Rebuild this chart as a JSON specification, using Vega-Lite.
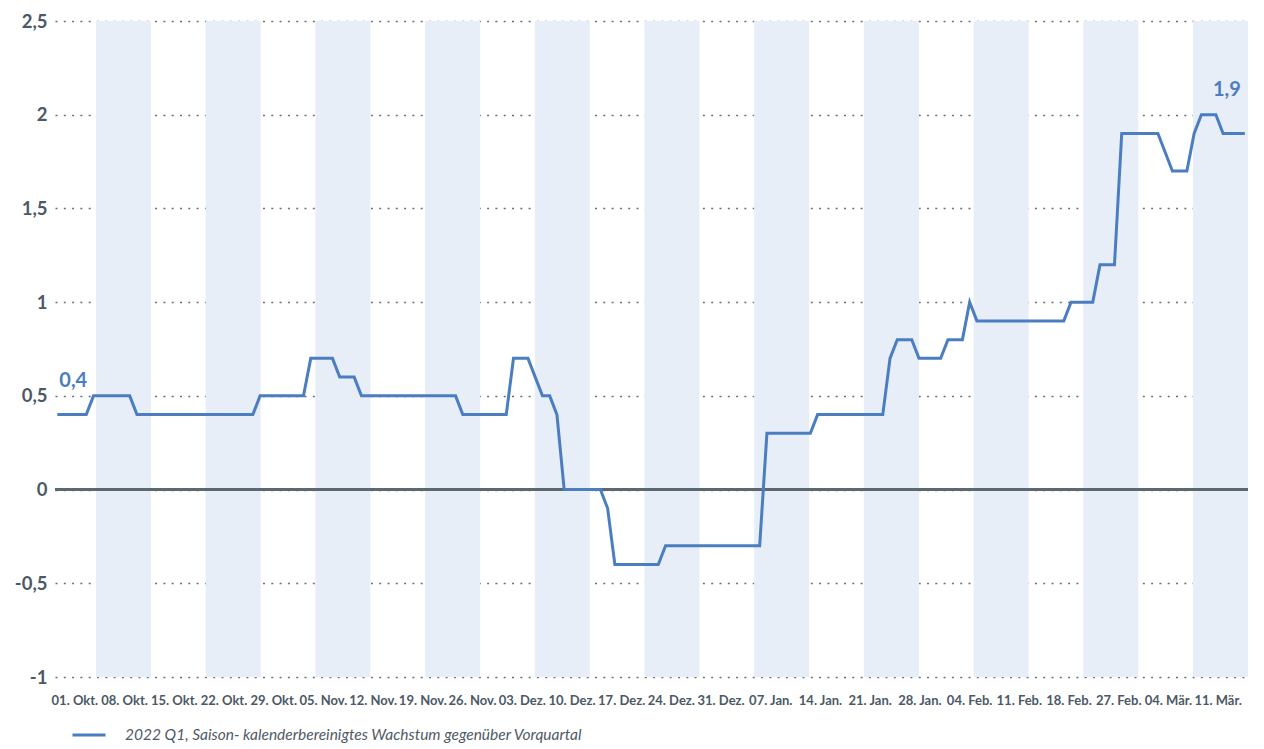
{
  "$schema": "https://vega.github.io/schema/vega-lite/v6.json",
  "autosize": {"type": "none"},
  "width": 1193,
  "height": 656,
  "padding": {"left": 55, "top": 21, "right": 16, "bottom": 72},
  "background": "white",
  "config": {
    "view": {"stroke": null},
    "font": "Lato",
    "axis": {"labelFont": "Lato"},
    "legend": {"labelFont": "Lato"}
  },
  "datasets": {
    "reihe": [
      {"t":0,"v":0.4},{"t":1,"v":0.4},{"t":2,"v":0.4},{"t":3,"v":0.4},{"t":4,"v":0.4},
      {"t":5,"v":0.5},{"t":6,"v":0.5},{"t":7,"v":0.5},{"t":8,"v":0.5},{"t":9,"v":0.5},{"t":10,"v":0.5},
      {"t":11,"v":0.4},{"t":12,"v":0.4},{"t":13,"v":0.4},{"t":14,"v":0.4},{"t":15,"v":0.4},{"t":16,"v":0.4},{"t":17,"v":0.4},{"t":18,"v":0.4},{"t":19,"v":0.4},{"t":20,"v":0.4},{"t":21,"v":0.4},{"t":22,"v":0.4},{"t":23,"v":0.4},{"t":24,"v":0.4},{"t":25,"v":0.4},{"t":26,"v":0.4},{"t":27,"v":0.4},
      {"t":28,"v":0.5},{"t":29,"v":0.5},{"t":30,"v":0.5},{"t":31,"v":0.5},{"t":32,"v":0.5},{"t":33,"v":0.5},{"t":34,"v":0.5},
      {"t":35,"v":0.7},{"t":36,"v":0.7},{"t":37,"v":0.7},{"t":38,"v":0.7},
      {"t":39,"v":0.6},{"t":40,"v":0.6},{"t":41,"v":0.6},
      {"t":42,"v":0.5},{"t":43,"v":0.5},{"t":44,"v":0.5},{"t":45,"v":0.5},{"t":46,"v":0.5},{"t":47,"v":0.5},{"t":48,"v":0.5},{"t":49,"v":0.5},{"t":50,"v":0.5},{"t":51,"v":0.5},{"t":52,"v":0.5},{"t":53,"v":0.5},{"t":54,"v":0.5},{"t":55,"v":0.5},
      {"t":56,"v":0.4},{"t":57,"v":0.4},{"t":58,"v":0.4},{"t":59,"v":0.4},{"t":60,"v":0.4},{"t":61,"v":0.4},{"t":62,"v":0.4},
      {"t":63,"v":0.7},{"t":64,"v":0.7},{"t":65,"v":0.7},
      {"t":66,"v":0.6},
      {"t":67,"v":0.5},{"t":68,"v":0.5},
      {"t":69,"v":0.4},
      {"t":70,"v":0},{"t":71,"v":0},{"t":72,"v":0},{"t":73,"v":0},{"t":74,"v":0},{"t":75,"v":0},
      {"t":76,"v":-0.1},
      {"t":77,"v":-0.4},{"t":78,"v":-0.4},{"t":79,"v":-0.4},{"t":80,"v":-0.4},{"t":81,"v":-0.4},{"t":82,"v":-0.4},{"t":83,"v":-0.4},
      {"t":84,"v":-0.3},{"t":85,"v":-0.3},{"t":86,"v":-0.3},{"t":87,"v":-0.3},{"t":88,"v":-0.3},{"t":89,"v":-0.3},{"t":90,"v":-0.3},{"t":91,"v":-0.3},{"t":92,"v":-0.3},{"t":93,"v":-0.3},{"t":94,"v":-0.3},{"t":95,"v":-0.3},{"t":96,"v":-0.3},{"t":97,"v":-0.3},
      {"t":98,"v":0.3},{"t":99,"v":0.3},{"t":100,"v":0.3},{"t":101,"v":0.3},{"t":102,"v":0.3},{"t":103,"v":0.3},{"t":104,"v":0.3},
      {"t":105,"v":0.4},{"t":106,"v":0.4},{"t":107,"v":0.4},{"t":108,"v":0.4},{"t":109,"v":0.4},{"t":110,"v":0.4},{"t":111,"v":0.4},{"t":112,"v":0.4},{"t":113,"v":0.4},{"t":114,"v":0.4},
      {"t":115,"v":0.7},
      {"t":116,"v":0.8},{"t":117,"v":0.8},{"t":118,"v":0.8},
      {"t":119,"v":0.7},{"t":120,"v":0.7},{"t":121,"v":0.7},{"t":122,"v":0.7},
      {"t":123,"v":0.8},{"t":124,"v":0.8},{"t":125,"v":0.8},
      {"t":126,"v":1.0},
      {"t":127,"v":0.9},{"t":128,"v":0.9},{"t":129,"v":0.9},{"t":130,"v":0.9},{"t":131,"v":0.9},{"t":132,"v":0.9},{"t":133,"v":0.9},{"t":134,"v":0.9},{"t":135,"v":0.9},{"t":136,"v":0.9},{"t":137,"v":0.9},{"t":138,"v":0.9},{"t":139,"v":0.9},
      {"t":140,"v":1.0},{"t":141,"v":1.0},{"t":142,"v":1.0},{"t":143,"v":1.0},
      {"t":144,"v":1.2},{"t":145,"v":1.2},{"t":146,"v":1.2},
      {"t":147,"v":1.9},{"t":148,"v":1.9},{"t":149,"v":1.9},{"t":150,"v":1.9},{"t":151,"v":1.9},{"t":152,"v":1.9},
      {"t":153,"v":1.8},
      {"t":154,"v":1.7},{"t":155,"v":1.7},{"t":156,"v":1.7},
      {"t":157,"v":1.9},
      {"t":158,"v":2.0},{"t":159,"v":2.0},{"t":160,"v":2.0},
      {"t":161,"v":1.9},{"t":162,"v":1.9},{"t":163,"v":1.9},{"t":164,"v":1.9}
    ],
    "baender": [
      {"von":5.34,"bis":12.94},{"von":20.49,"bis":28.09},{"von":35.64,"bis":43.24},{"von":50.79,"bis":58.39},
      {"von":65.94,"bis":73.54},{"von":81.09,"bis":88.69},{"von":96.24,"bis":103.84},{"von":111.39,"bis":118.99},
      {"von":126.54,"bis":134.14},{"von":141.69,"bis":149.29},{"von":156.84,"bis":164.44}
    ],
    "wochen": [
      {"w":"01. Okt."},{"w":"08. Okt."},{"w":"15. Okt."},{"w":"22. Okt."},{"w":"29. Okt."},
      {"w":"05. Nov."},{"w":"12. Nov."},{"w":"19. Nov."},{"w":"26. Nov."},
      {"w":"03. Dez."},{"w":"10. Dez."},{"w":"17. Dez."},{"w":"24. Dez."},{"w":"31. Dez."},
      {"w":"07. Jan."},{"w":"14. Jan."},{"w":"21. Jan."},{"w":"28. Jan."},
      {"w":"04. Feb."},{"w":"11. Feb."},{"w":"18. Feb."},{"w":"27. Feb."},
      {"w":"04. Mär."},{"w":"11. Mär."}
    ],
    "marken": [
      {"t":0,"v":0.4,"text":"0,4","seite":"links"},
      {"t":164,"v":1.9,"text":"1,9","seite":"rechts"}
    ]
  },
  "layer": [
    {
      "layer": [
        {
          "data": {"name": "baender"},
          "mark": {"type": "rect", "color": "#e7eef8"},
          "encoding": {
            "x": {"field": "von", "type": "quantitative", "scale": {"domain": [-0.32, 164.44], "nice": false, "zero": false}, "axis": null},
            "x2": {"field": "bis"}
          }
        },
        {
          "data": {"name": "reihe"},
          "mark": {"type": "rule", "color": "#5d6971", "strokeWidth": 2},
          "encoding": {"y": {"datum": 0}}
        },
        {
          "data": {"name": "reihe"},
          "mark": {"type": "line", "strokeWidth": 3, "strokeJoin": "miter"},
          "encoding": {
            "x": {"field": "t", "type": "quantitative", "scale": {"domain": [-0.32, 164.44], "nice": false, "zero": false}, "axis": null},
            "y": {
              "field": "v", "type": "quantitative",
              "scale": {"domain": [-1, 2.5], "nice": false, "zero": false},
              "axis": {
                "title": null, "values": [-1, -0.5, 0, 0.5, 1, 1.5, 2, 2.5],
                "format": "~g",
                "domain": false, "ticks": false, "tickSize": 0,
                "grid": true, "gridColor": "#66717a", "gridDash": [2, 6.3], "gridWidth": 1.7,
                "labelFont": "Lato", "labelFontWeight": "bold", "labelFontSize": 18.5, "labelColor": "#4b5966",
                "labelPadding": 8,
                "labelExpr": "replace(replace(datum.label, '.', ','), '−', '-')"
              }
            },
            "color": {
              "datum": "2022 Q1, Saison- kalenderbereinigtes Wachstum gegenüber Vorquartal",
              "scale": {"range": ["#4a7ec0"]},
              "legend": {
                "title": null, "orient": "none", "legendX": 16, "legendY": 696, "padding": 0,
                "symbolType": "stroke", "symbolSize": 1089, "symbolStrokeWidth": 3,
                "labelOffset": 18, "labelFont": "Lato", "labelFontStyle": "italic", "labelFontSize": 15.5,
                "labelColor": "#4f5b66", "labelLimit": 800
              }
            }
          }
        },
        {
          "data": {"name": "marken"},
          "transform": [{"filter": "datum.seite === 'links'"}],
          "mark": {"type": "text", "align": "left", "baseline": "alphabetic", "dx": 2, "dy": -28, "fontSize": 20, "fontWeight": "bold", "color": "#4a7ec0"},
          "encoding": {
            "x": {"field": "t", "type": "quantitative"},
            "y": {"field": "v", "type": "quantitative"},
            "text": {"field": "text"}
          }
        },
        {
          "data": {"name": "marken"},
          "transform": [{"filter": "datum.seite === 'rechts'"}],
          "mark": {"type": "text", "align": "right", "baseline": "alphabetic", "dx": -4, "dy": -37, "fontSize": 20, "fontWeight": "bold", "color": "#4a7ec0"},
          "encoding": {
            "x": {"field": "t", "type": "quantitative"},
            "y": {"field": "v", "type": "quantitative"},
            "text": {"field": "text"}
          }
        }
      ]
    },
    {
      "data": {"name": "wochen"},
      "mark": {"type": "point", "opacity": 0},
      "encoding": {
        "x": {
          "field": "w", "type": "nominal", "sort": null,
          "scale": {"type": "band", "paddingInner": 0, "paddingOuter": 0},
          "axis": {
            "orient": "bottom",
            "title": null, "labelAngle": 0, "domain": false, "ticks": false, "tickSize": 0,
            "labelFont": "Lato", "labelFontWeight": "bold", "labelFontSize": 13, "labelColor": "#4b5966",
            "labelPadding": 17, "labelOffset": -5, "labelOverlap": false
          }
        }
      }
    }
  ],
  "resolve": {"scale": {"x": "independent"}}
}
